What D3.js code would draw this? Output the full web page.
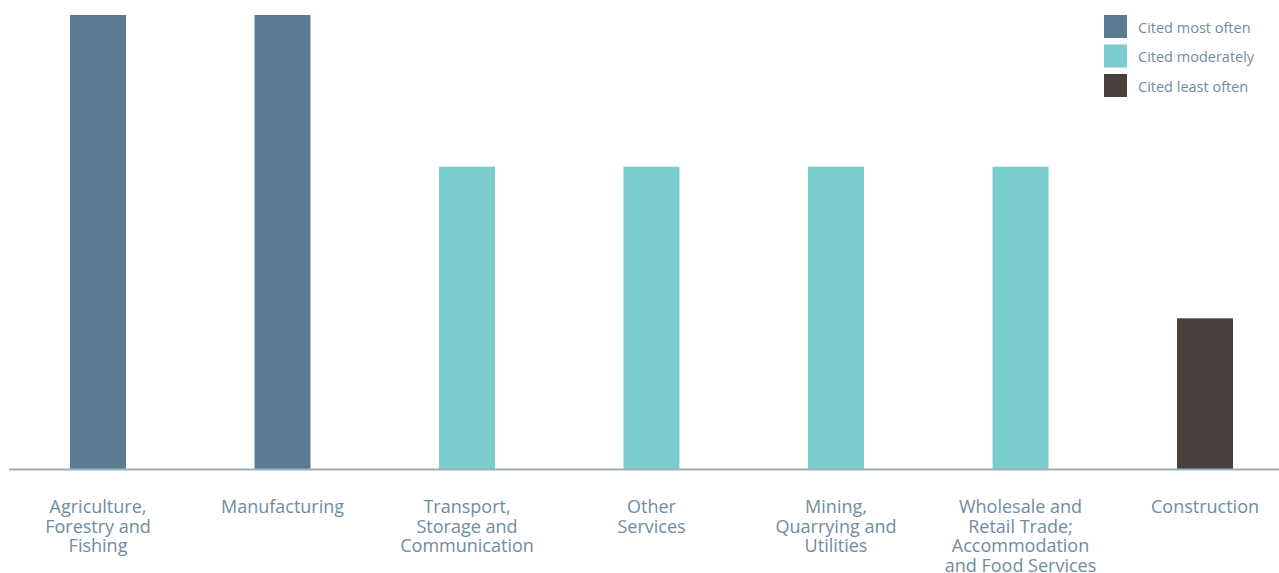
<!DOCTYPE html>
<html>
<head>
<meta charset="utf-8">
<script src="https://cdn.jsdelivr.net/npm/d3@7"></script>
<style>
  body { margin: 0; background: #fff; }
  text { font-family: "Open Sans", sans-serif; fill: #6f8ca0; }
</style>
</head>
<body>
<div id="container"></div>
<script>
// sectors, in the order shown
var sectors = [
  "Agriculture,|Forestry and|Fishing",
  "Manufacturing",
  "Transport,|Storage and|Communication",
  "Other|Services",
  "Mining,|Quarrying and|Utilities",
  "Wholesale and|Retail Trade;|Accommodation|and Food Services",
  "Construction"
]
// 3 = most often, 2 = moderately, 1 = least often
var citedLevel = [3, 3, 2, 2, 2, 2, 1]
var legendLabels = ["Cited most often", "Cited moderately", "Cited least often"]
var legendLevels = [3, 2, 1]

var width = 1279
var height = 573

var svg = d3.select("#container").append("svg")
  .attr("width", width)
  .attr("height", height)

var x = d3.scaleBand()
  .domain(sectors)
  .range([5.75, 1297.25])
  .paddingInner(0.6965)
  .paddingOuter(0.6965 / 2)

var y = d3.scaleLinear()
  .domain([0, 3])
  .range([470, 15])

var color = d3.scaleOrdinal()
  .domain([3, 2, 1])
  .range(["#5b7b92", "#7acccd", "#4a3f3d"])

svg.selectAll(".bar")
  .data(sectors)
  .enter().append("rect")
    .attr("class", "bar")
    .attr("x", d => x(d))
    .attr("width", x.bandwidth())
    .attr("y", (d, i) => y(citedLevel[i]))
    .attr("height", (d, i) => y(0) - y(citedLevel[i]))
    .attr("fill", (d, i) => color(citedLevel[i]))

// baseline
svg.append("line")
  .attr("x1", 9)
  .attr("x2", width)
  .attr("y1", y(0) - 0.5)
  .attr("y2", y(0) - 0.5)
  .attr("stroke", "#9ab0bf")
  .attr("stroke-width", 2)

// category labels, wrapped on "|"
var labels = svg.selectAll(".label")
  .data(sectors)
  .enter().append("text")
    .attr("class", "label")
    .attr("text-anchor", "middle")
    .style("font-size", "18px")
    .attr("transform", d => "translate(" + (x(d) + x.bandwidth() / 2) + ",513)")

labels.selectAll("tspan")
  .data(d => d.split("|"))
  .enter().append("tspan")
    .attr("x", 0)
    .attr("y", (d, i) => i * 19.7)
    .text(d => d)

// legend
var legend = svg.selectAll(".legend")
  .data(legendLabels)
  .enter().append("g")
    .attr("class", "legend")
    .attr("transform", (d, i) => "translate(1104," + (15 + i * 29.5) + ")")

legend.append("rect")
  .attr("width", 23)
  .attr("height", 23)
  .attr("fill", (d, i) => color(legendLevels[i]))

legend.append("text")
  .attr("x", 34)
  .attr("y", 17.5)
  .style("font-size", "14.5px")
  .text(d => d)
</script>
</body>
</html>
